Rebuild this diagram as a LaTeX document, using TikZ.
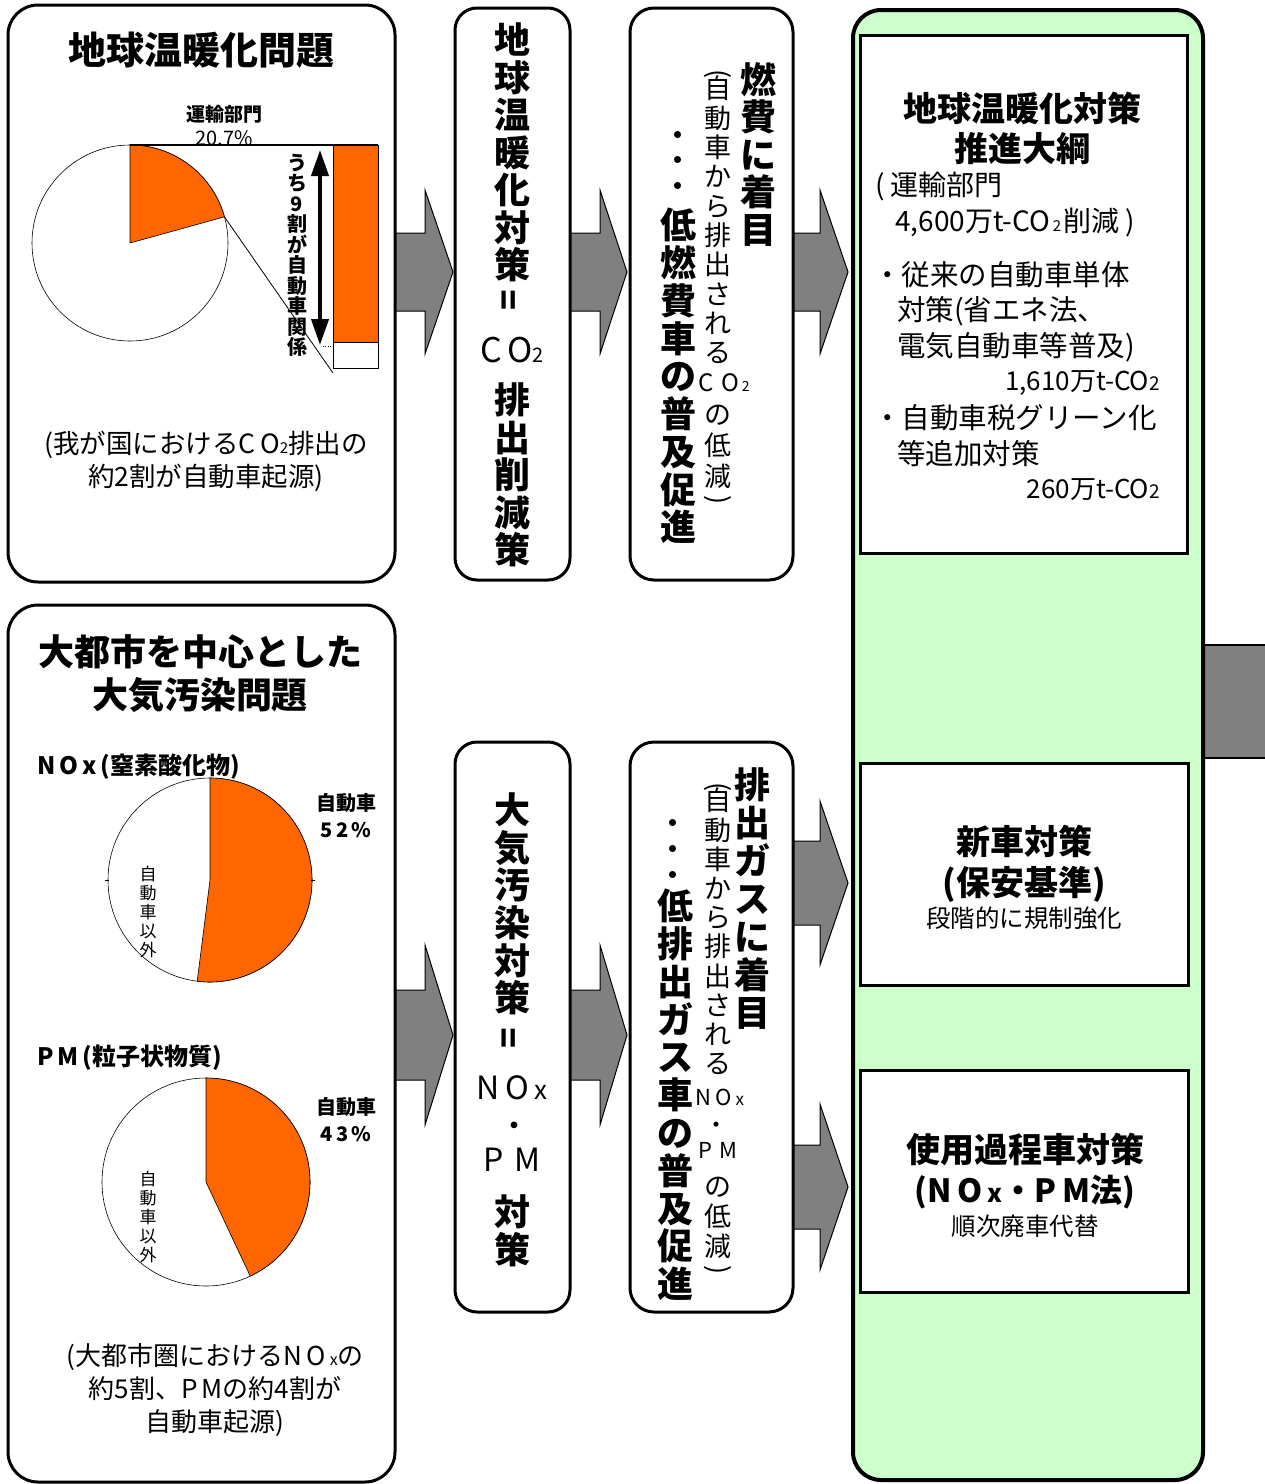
\documentclass[tikz,border=0pt]{standalone}
\usepackage{fontspec}
\setmainfont{Noto Sans CJK JP}
\usetikzlibrary{arrows.meta,calc}
\definecolor{pieor}{HTML}{FF6600}
\definecolor{arrgray}{HTML}{808080}
\definecolor{panelgreen}{HTML}{CCFFCC}
\newcommand{\fs}[2]{\fontsize{#1}{#2}\selectfont}
\newcommand{\barrow}[6]{\filldraw[arrstyle] (#1,#4-#5) -- (#2,#4-#5) -- (#2,#4-#6) -- (#3,#4) -- (#2,#4+#6) -- (#2,#4+#5) -- (#1,#4+#5);}
\begin{document}
\lineskiplimit=-100pt
\begin{tikzpicture}[x=1pt,y=-1pt,
  rbox/.style={draw, line width=3pt, fill=white, rounded corners=#1, inner sep=0pt},
  rbox/.default=28pt,
  sbox/.style={draw, line width=3pt, fill=white, inner sep=0pt},
  arrstyle/.style={fill=arrgray, draw=black, line width=1pt},
  vt/.style={align=center, inner sep=0pt},
  tx/.style={inner sep=0pt}]
\useasboundingbox (0,0) rectangle (1265,1484);

% block arrows (drawn first, boxes cover their tails)
\barrow{390}{425}{453}{272}{39}{82}
\barrow{565}{600}{627}{272}{39}{82}
\barrow{788}{820}{848}{272}{39}{82}
\barrow{390}{425}{453}{1035}{45}{90}
\barrow{565}{600}{627}{1035}{45}{90}
\barrow{788}{820}{848}{883}{42}{82}
\barrow{788}{820}{848}{1187}{42}{83}
% arrow stub leaving the panel
\fill[arrgray] (1195,645) rectangle (1265,758);
\draw[line width=2pt] (1195,645) -- (1265,645) (1195,758) -- (1265,758);

% boxes
\node[rbox=30pt, minimum width=387pt, minimum height=577pt] (boxA) at (201.5,293.5) {};
\node[rbox=30pt, minimum width=387pt, minimum height=877pt] (boxB) at (201.5,1043.5) {};
\node[rbox=22pt, minimum width=115pt, minimum height=572pt] (boxC) at (512.5,294) {};
\node[rbox=22pt, minimum width=115pt, minimum height=570pt] (boxD) at (512.5,1027) {};
\node[rbox=24pt, minimum width=163pt, minimum height=572pt] (boxE) at (711.5,294) {};
\node[rbox=24pt, minimum width=163pt, minimum height=570pt] (boxF) at (711.5,1027) {};
\node[draw, line width=4pt, fill=panelgreen, rounded corners=28pt, minimum width=350pt, minimum height=1470pt, inner sep=0pt] (panel) at (1028,745) {};
\node[sbox, minimum width=327pt, minimum height=518pt] (in1) at (1023.5,294) {};
\node[sbox, minimum width=328pt, minimum height=222pt] (in2) at (1024,874) {};
\node[sbox, minimum width=328pt, minimum height=222pt] (in3) at (1024,1181) {};

% ---------- Box A ----------
\node[tx, font=\bfseries\fs{38}{40}] (tA) at (201,50) {地球温暖化問題};
\node[tx, font=\bfseries\fs{19}{20}] (lbT) at (224,114) {運輸部門};
\node[tx, font=\fs{20}{20}] (lbP) at (224,138) {20.7\%};
\draw[line width=0.6pt] (130,243) circle[radius=98];
\filldraw[fill=pieor, draw=black, line width=0.6pt] (130,243) -- ++(-90:98) arc[start angle=-90, end angle=-15.48, radius=98] -- cycle;
\coordinate (sliceEnd) at ($(130,243)+(-15.48:98)$);
\filldraw[fill=pieor, draw=black, line width=0.6pt] (333,145) rectangle (378,342);
\draw[line width=0.6pt] (333,342) rectangle (378,368);
\coordinate (barTL) at (333,145);
\coordinate (pieTop) at (130,145);
\coordinate (barBL) at (333,373);
\draw[line width=1.5pt] (pieTop) -- (barTL) -- (378,145);
\draw[line width=0.8pt] (sliceEnd) -- (barBL);
\coordinate (dA1) at (320,150);
\coordinate (dA2) at (320,345);
\draw[line width=4pt, {Triangle[width=17pt,length=26pt]}-{Triangle[width=17pt,length=26pt]}] (dA1) -- (dA2);
\draw[dotted] (323,346) -- (333,346);
\node[vt, font=\bfseries\fs{20}{20.5}] (vA) at (297,255) {う\\ち\\9\\割\\が\\自\\動\\車\\関\\係};
\node[vt, font=\fs{26.5}{33}] (noteA) at (206,461) {(我が国におけるC\,O{\fs{15}{15}2}排出の\\約2割が自動車起源)};

% ---------- Box B ----------
\node[vt, font=\bfseries\fs{36}{43}] (tB) at (200,673.5) {大都市を中心とした\\大気汚染問題};
\node[tx, anchor=west, font=\bfseries\fs{24}{26}] (lNOx) at (37,767) {N\,O\,x\,(窒素酸化物)};
\draw[line width=0.6pt] (210,880) circle[radius=102];
\filldraw[fill=pieor, draw=black, line width=0.6pt] (210,880) -- ++(-90:102) arc[start angle=-90, end angle=97.2, radius=102] -- cycle;
\draw (105,880) -- (109,880) (311,880) -- (315,880);
\node[vt, font=\bfseries\fs{20}{27}] (l52) at (346,816) {自動車\\5\,2\,\%};
\node[vt, font=\fs{17}{19}] (o52) at (148,912) {自\\動\\車\\以\\外};

\node[tx, anchor=west, font=\bfseries\fs{24}{26}] (lPM) at (37,1058) {P\,M\,(粒子状物質)};
\draw[line width=0.6pt] (206,1182) circle[radius=104];
\filldraw[fill=pieor, draw=black, line width=0.6pt] (206,1182) -- ++(-90:104) arc[start angle=-90, end angle=64.8, radius=104] -- cycle;
\node[vt, font=\bfseries\fs{20}{27}] (l43) at (346,1120) {自動車\\4\,3\,\%};
\node[vt, font=\fs{17}{19}] (o43) at (148,1217) {自\\動\\車\\以\\外};
\node[vt, font=\fs{26}{33}] (noteB) at (215,1390) {(大都市圏におけるN\,O\,{\fs{16}{16}x}の\\約5割、P\,Mの約4割が\\自動車起源)};

% ---------- Box C ----------
\node[vt, font=\bfseries\fs{36}{37.5}] (c1) at (512,152.5) {地\\球\\温\\暖\\化\\対\\策};
\node[tx, font=\bfseries\fs{34}{34}, rotate=90] (c2) at (512,300) {=};
\node[tx, font=\fs{34}{34}] (c3) at (512,350) {C\,O{\fs{20}{20}2}};
\node[vt, font=\bfseries\fs{36}{37.5}] (c4) at (512,475) {排\\出\\削\\減\\策};

% ---------- Box D ----------
\node[vt, font=\bfseries\fs{36}{37.6}] (d1) at (512,904) {大\\気\\汚\\染\\対\\策};
\node[tx, font=\bfseries\fs{34}{34}, rotate=90] (d2) at (512,1038) {=};
\node[tx, font=\fs{32}{32}] (d3) at (512,1088) {N\,O\,{\fs{26}{26}x}};
\node[tx, font=\bfseries\fs{24}{24}] (d4) at (514,1128) {・};
\node[tx, font=\fs{32}{32}] (d5) at (512,1160) {P\,\,M};
\node[vt, font=\bfseries\fs{36}{38}] (d6) at (512,1231) {対\\策};

% ---------- Box E ----------
\node[vt, font=\bfseries\fs{36}{37.5}] (e1) at (758,154) {燃\\費\\に\\着\\目};
\node[tx, font=\fs{27}{27}, rotate=-90] (e2) at (718,74) {(};
\node[vt, font=\fs{27}{29.3}] (e3) at (718,220) {自\\動\\車\\か\\ら\\排\\出\\さ\\れ\\る};
\node[tx, font=\fs{24}{24}] (e4) at (724,383) {C\,\,O{\fs{14}{14}\,2}};
\node[vt, font=\fs{27}{31}] (e5) at (718,447) {の\\低\\減};
\node[tx, font=\fs{27}{27}, rotate=-90] (e6) at (718,500) {)};
\node[vt, font=\bfseries\fs{25}{25.5}] (e7) at (678,163) {・\\・\\・};
\node[vt, font=\bfseries\fs{36}{37.75}] (e8) at (678,376) {低\\燃\\費\\車\\の\\普\\及\\促\\進};

% ---------- Box F ----------
\node[vt, font=\bfseries\fs{36}{38}] (f1) at (752,899) {排\\出\\ガ\\ス\\に\\着\\目};
\node[tx, font=\fs{27}{27}, rotate=-90] (f2) at (718,787) {(};
\node[vt, font=\fs{27}{29.2}] (f3) at (718,931.5) {自\\動\\車\\か\\ら\\排\\出\\さ\\れ\\る};
\node[tx, font=\fs{22}{22}] (f4) at (720,1097) {N\,O\,{\fs{17}{17}x}};
\node[tx, font=\bfseries\fs{18}{18}] (f5) at (716,1127) {・};
\node[tx, font=\fs{22}{22}] (f6) at (718,1150) {P\,\,M};
\node[vt, font=\fs{27}{30}] (f7) at (718,1218) {の\\低\\減};
\node[tx, font=\fs{27}{27}, rotate=-90] (f8) at (718,1270) {)};
\node[vt, font=\bfseries\fs{25}{26}] (f9) at (673,852) {・\\・\\・};
\node[vt, font=\bfseries\fs{36}{37.8}] (f10) at (675,1095) {低\\排\\出\\ガ\\ス\\車\\の\\普\\及\\促\\進};

% ---------- Panel texts ----------
\node[vt, font=\bfseries\fs{34}{40}] (p1) at (1022,128) {地球温暖化対策\\推進大綱};
\node[tx, anchor=west, font=\fs{28}{30}] (p2) at (875,186) {( 運輸部門};
\node[tx, anchor=west, font=\fs{28}{30}] (p3) at (895,222) {4,600万t-CO{\fs{15}{15}\,2\,}削減 )};
\node[tx, anchor=west, font=\fs{28.5}{30}] (p4) at (873,275) {・従来の自動車単体};
\node[tx, anchor=west, font=\fs{28.5}{30}] (p5) at (897,311) {対策(省エネ法、};
\node[tx, anchor=west, font=\fs{28.5}{30}] (p6) at (897,347) {電気自動車等普及)};
\node[tx, anchor=east, font=\fs{26}{28}] (p7) at (1160,383) {1,610万t-CO{\fs{19}{19}2}};
\node[tx, anchor=west, font=\fs{28.5}{30}] (p8) at (873,418) {・自動車税グリーン化};
\node[tx, anchor=west, font=\fs{28.5}{30}] (p9) at (897,454) {等追加対策};
\node[tx, anchor=east, font=\fs{26}{28}] (p10) at (1160,490) {260万t-CO{\fs{19}{19}2}};

\node[vt, font=\bfseries\fs{34}{41}] (q1) at (1024,863.5) {新車対策\\(保安基準)};
\node[tx, font=\fs{24.5}{26}] (q2) at (1024,918) {段階的に規制強化};
\node[tx, font=\bfseries\fs{34}{36}] (r1) at (1025,1150) {使用過程車対策};
\node[tx, font=\bfseries\fs{32}{34}] (r2) at (1025,1192) {(N\,O\,{\fs{25}{25}x}・P\,M法)};
\node[tx, font=\fs{24.5}{26}] (r3) at (1025,1226) {順次廃車代替};
\end{tikzpicture}
\end{document}
